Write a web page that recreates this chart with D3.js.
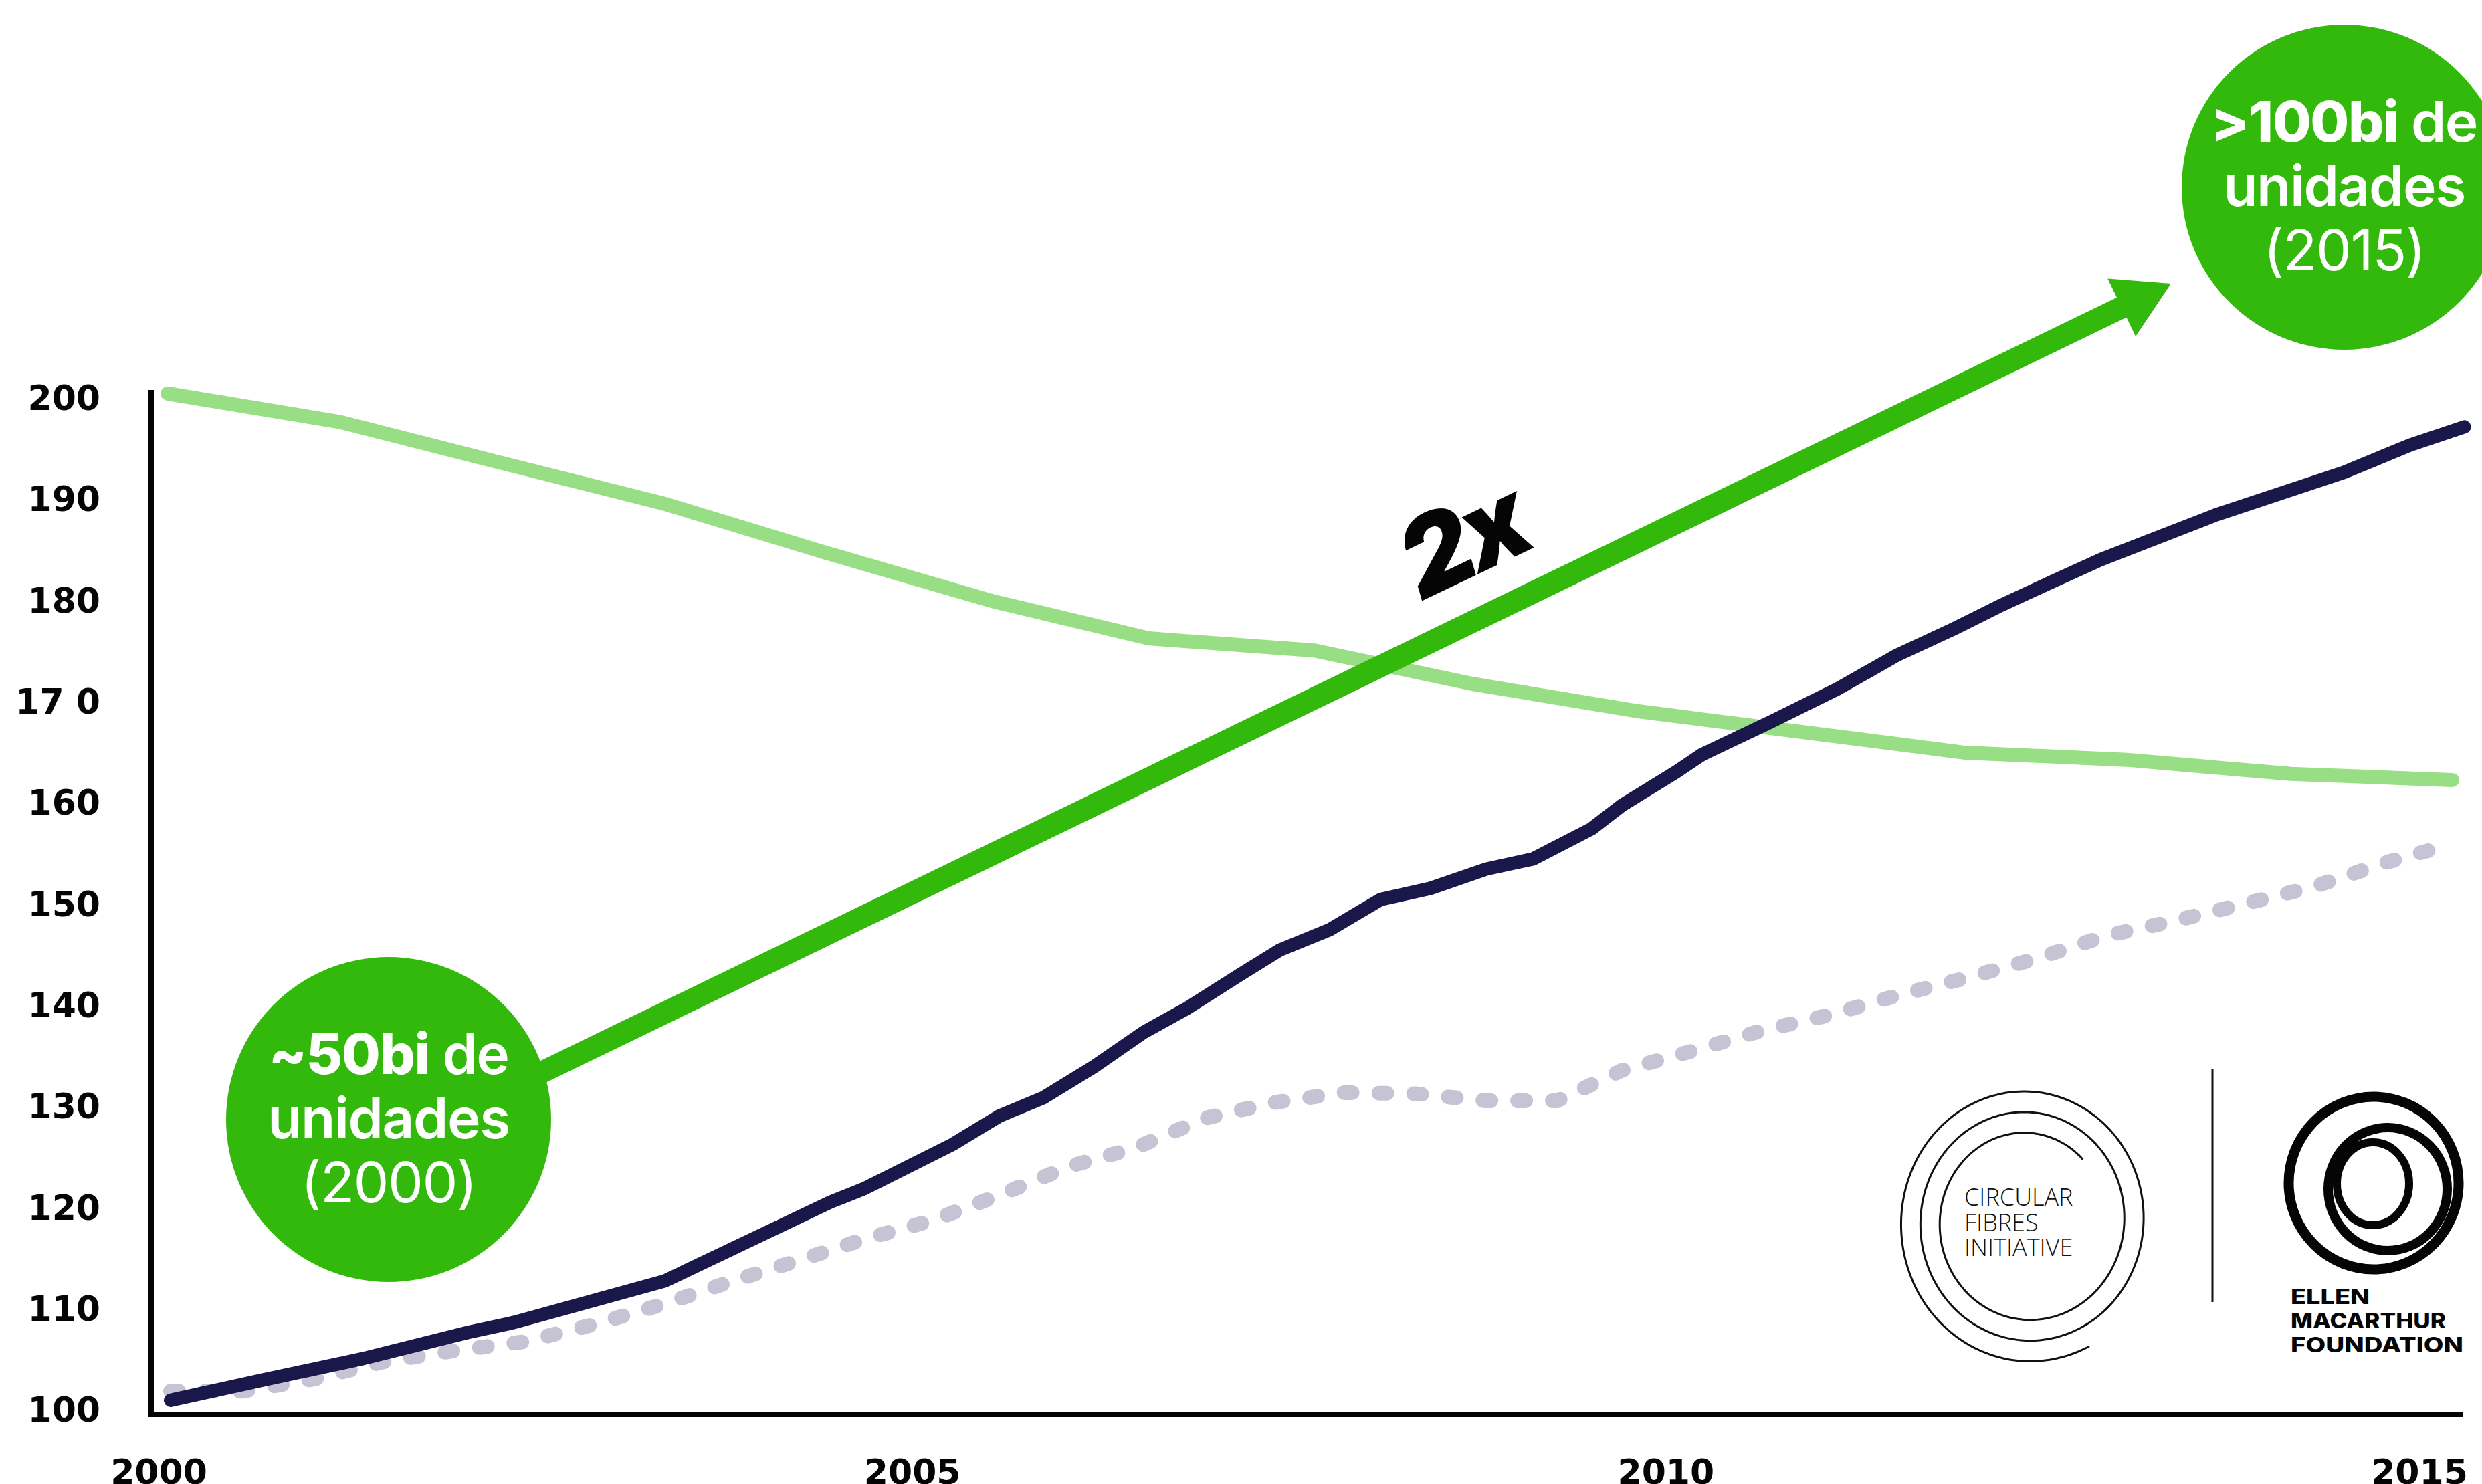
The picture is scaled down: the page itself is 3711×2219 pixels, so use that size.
<!DOCTYPE html>
<html>
<head>
<meta charset="utf-8">
<script src="https://cdn.jsdelivr.net/npm/d3@7"></script>
<style>
  html, body { margin: 0; padding: 0; background: #fff; }
  svg { display: block; }
</style>
</head>
<body>
<div id="chart"></div>
<script>
// values (index, 2000 = 100 style scale)
var greenYears = [2000.06, 2001.20, 2002.26, 2003.36, 2004.42, 2005.53, 2006.57, 2007.67, 2008.72, 2009.82, 2011.99, 2013.06, 2014.15, 2015.22];
var greenValues = [200.5, 197.7, 193.7, 189.6, 184.8, 180.0, 176.3, 175.1, 171.8, 169.1, 165.0, 164.3, 162.9, 162.3];

var navyYears = [2000.08, 2000.69, 2001.35, 2002.05, 2002.36, 2003.36, 2004.46, 2004.68, 2005.27, 2005.58, 2005.87, 2006.21, 2006.54, 2006.82, 2007.18, 2007.44, 2007.77, 2008.11, 2008.44, 2008.81, 2009.12, 2009.51, 2009.71, 2010.07, 2010.24, 2010.69, 2011.14, 2011.53, 2011.92, 2012.23, 2012.55, 2012.89, 2013.65, 2014.50, 2014.94, 2015.30];
var navyValues = [101.0, 103.0, 105.1, 107.7, 108.7, 112.8, 120.6, 121.9, 126.3, 129.1, 130.9, 134.0, 137.4, 139.7, 143.1, 145.5, 147.5, 150.5, 151.6, 153.5, 154.5, 157.5, 159.8, 163.1, 164.8, 168.0, 171.3, 174.6, 177.3, 179.6, 181.8, 184.1, 188.5, 192.7, 195.4, 197.2];

var dotYears = [2000.08, 2000.56, 2001.03, 2001.49, 2001.96, 2002.43, 2002.89, 2003.35, 2003.79, 2004.24, 2004.70, 2005.14, 2005.60, 2006.04, 2006.49, 2006.95, 2007.39, 2007.86, 2008.34, 2008.81, 2009.28, 2009.71, 2010.17, 2010.63, 2011.09, 2011.56, 2012.01, 2012.47, 2012.92, 2013.38, 2013.85, 2014.31, 2014.77, 2015.22];
var dotValues = [101.9, 101.9, 103.1, 104.8, 105.9, 106.8, 108.5, 110.5, 112.7, 114.8, 117.0, 118.8, 121.4, 124.1, 126.0, 128.9, 130.4, 131.4, 131.3, 130.6, 130.6, 133.6, 135.5, 137.5, 139.1, 141.1, 142.8, 144.7, 146.9, 148.4, 150.1, 151.8, 154.1, 156.0];

var yTickValues = [100, 110, 120, 130, 140, 150, 160, 170, 180, 190, 200];
var yTickLabels = ["100", "110", "120", "130", "140", "150", "160", "17 0", "180", "190", "200"];
var xTickValues = [2000, 2005, 2010, 2015];

var leftBubble = [["~50bi", " de"], ["unidades"], ["(2000)"]];
var rightBubble = [[">100bi", " de"], ["unidades"], ["(2015)"]];

var COLORS = {
  green: "#98de85",
  navy: "#1a174b",
  dots: "#c5c3d4",
  bright: "#32b90c",
  ink: "#050505"
};

var W = 3711, H = 2219;

var svg = d3.select("#chart").append("svg")
  .attr("width", W)
  .attr("height", H);

svg.append("rect").attr("width", W).attr("height", H).attr("fill", "#fff");

var x = d3.scaleLinear().domain([2000, 2015]).range([237, 3617]);
var y = d3.scaleLinear().domain([100, 200]).range([2109, 596]);

function zip(a, b) { return a.map(function (v, i) { return [v, b[i]]; }); }

// axis lines
svg.append("line")
  .attr("x1", 226).attr("x2", 226).attr("y1", 583).attr("y2", 2119)
  .attr("stroke", COLORS.ink).attr("stroke-width", 8);
svg.append("line")
  .attr("x1", 222).attr("x2", 3683).attr("y1", 2115).attr("y2", 2115)
  .attr("stroke", COLORS.ink).attr("stroke-width", 8);

// tick labels
var yAxis = svg.append("g")
  .attr("transform", "translate(150,0)")
  .call(d3.axisLeft(y).tickValues(yTickValues).tickSize(0).tickPadding(0)
    .tickFormat(function (d, i) { return yTickLabels[i]; }));
yAxis.select(".domain").remove();

var xAxis = svg.append("g")
  .attr("transform", "translate(0,2182)")
  .call(d3.axisBottom(x).tickValues(xTickValues).tickSize(0).tickPadding(0)
    .tickFormat(d3.format("d")));
xAxis.select(".domain").remove();

svg.selectAll(".tick text")
  .attr("font-family", "DejaVu Sans")
  .attr("font-weight", "bold")
  .attr("font-size", 52)
  .attr("fill", COLORS.ink);

// series
var line = d3.line()
  .x(function (d) { return x(d[0]); })
  .y(function (d) { return y(d[1]); });

svg.append("path")
  .datum(zip(greenYears, greenValues))
  .attr("fill", "none")
  .attr("stroke", COLORS.green)
  .attr("stroke-width", 21)
  .attr("stroke-linecap", "round")
  .attr("d", line);

svg.append("path")
  .datum(zip(dotYears, dotValues))
  .attr("fill", "none")
  .attr("stroke", COLORS.dots)
  .attr("stroke-width", 22)
  .attr("stroke-linecap", "round")
  .attr("stroke-linejoin", "round")
  .attr("stroke-dasharray", "12 40")
  .attr("d", line);

svg.append("path")
  .datum(zip(navyYears, navyValues))
  .attr("fill", "none")
  .attr("stroke", COLORS.navy)
  .attr("stroke-width", 20)
  .attr("stroke-linecap", "round")
  .attr("d", line);

// doubling arrow
var aStart = [780, 1618], aTip = [3246, 424];
var shaftW = 33, headLen = 82, headW = 96;
var dx = aTip[0] - aStart[0], dy = aTip[1] - aStart[1];
var len = Math.sqrt(dx * dx + dy * dy);
var ux = dx / len, uy = dy / len, nx = -uy, ny = ux;
var base = [aTip[0] - ux * headLen, aTip[1] - uy * headLen];

svg.append("line")
  .attr("x1", aStart[0]).attr("y1", aStart[1])
  .attr("x2", base[0] + ux * 2).attr("y2", base[1] + uy * 2)
  .attr("stroke", COLORS.bright)
  .attr("stroke-width", shaftW);
svg.append("path")
  .attr("fill", COLORS.bright)
  .attr("d", d3.line()([
    aTip,
    [base[0] + nx * headW / 2, base[1] + ny * headW / 2],
    [base[0] - nx * headW / 2, base[1] - ny * headW / 2]
  ]) + "Z");

svg.append("text")
  .attr("transform", "translate(2211,858) rotate(-25.5)")
  .attr("text-anchor", "middle")
  .attr("font-family", "Inter")
  .attr("font-weight", 900)
  .attr("font-style", "italic")
  .attr("font-size", 160)
  .attr("letter-spacing", -6)
  .attr("fill", COLORS.ink)
  .text("2x");

// bubbles
function bubble(cx, cy, lines) {
  var g = svg.append("g");
  g.append("circle").attr("cx", cx).attr("cy", cy).attr("r", 243).attr("fill", COLORS.bright);
  var weights = [[800, 600], [600], [400]];
  var offsets = [-68, 28, 124];
  lines.forEach(function (parts, i) {
    var t = g.append("text")
      .attr("x", cx).attr("y", cy + offsets[i])
      .attr("text-anchor", "middle")
      .attr("font-family", "Inter")
      .attr("font-size", 84)
      .attr("letter-spacing", -1.5)
      .attr("fill", "#fff");
    parts.forEach(function (p, j) {
      t.append("tspan").attr("font-weight", weights[i][j]).text(p);
    });
  });
}
bubble(581, 1674, leftBubble);
bubble(3505, 280, rightBubble);

// logos
var cfi = svg.append("g");
var cfiPts = [];
for (var k = 0; k <= 400; k++) {
  var a = (44 - 972 * k / 400) * Math.PI / 180;
  var r = 120 + 78 * k / 400;
  cfiPts.push([3031 + r * Math.sin(a), 1826 - r * 1.07 * Math.cos(a)]);
}
cfi.append("path")
  .attr("d", d3.line().curve(d3.curveBasis)(cfiPts))
  .attr("fill", "none").attr("stroke", "#111").attr("stroke-width", 3);
["CIRCULAR", "FIBRES", "INITIATIVE"].forEach(function (s, i) {
  cfi.append("text")
    .attr("x", 2937).attr("y", 1803 + i * 37.5)
    .attr("font-family", "Open Sans")
    .attr("font-weight", 300)
    .attr("font-size", 36)
    .attr("fill", "#111")
    .text(s);
});

svg.append("line")
  .attr("x1", 3308).attr("x2", 3308).attr("y1", 1598).attr("y2", 1947)
  .attr("stroke", "#111").attr("stroke-width", 3);

var emf = svg.append("g").attr("fill", "none").attr("stroke", "#050505");
emf.append("ellipse").attr("cx", 3549).attr("cy", 1769).attr("rx", 127).attr("ry", 129).attr("stroke-width", 15);
emf.append("ellipse").attr("cx", 3570).attr("cy", 1778).attr("rx", 89).attr("ry", 92).attr("stroke-width", 14);
emf.append("ellipse").attr("cx", 3548).attr("cy", 1770).attr("rx", 54).attr("ry", 62).attr("stroke-width", 12);
[["ELLEN", 118], ["MACARTHUR", 232], ["FOUNDATION", 258]].forEach(function (s, i) {
  svg.append("text")
    .attr("x", 3425).attr("y", 1950 + i * 36)
    .attr("font-family", "Inter")
    .attr("font-weight", 800)
    .attr("font-size", 31)
    .attr("textLength", s[1])
    .attr("lengthAdjust", "spacingAndGlyphs")
    .attr("fill", "#050505")
    .text(s[0]);
});
</script>
</body>
</html>
